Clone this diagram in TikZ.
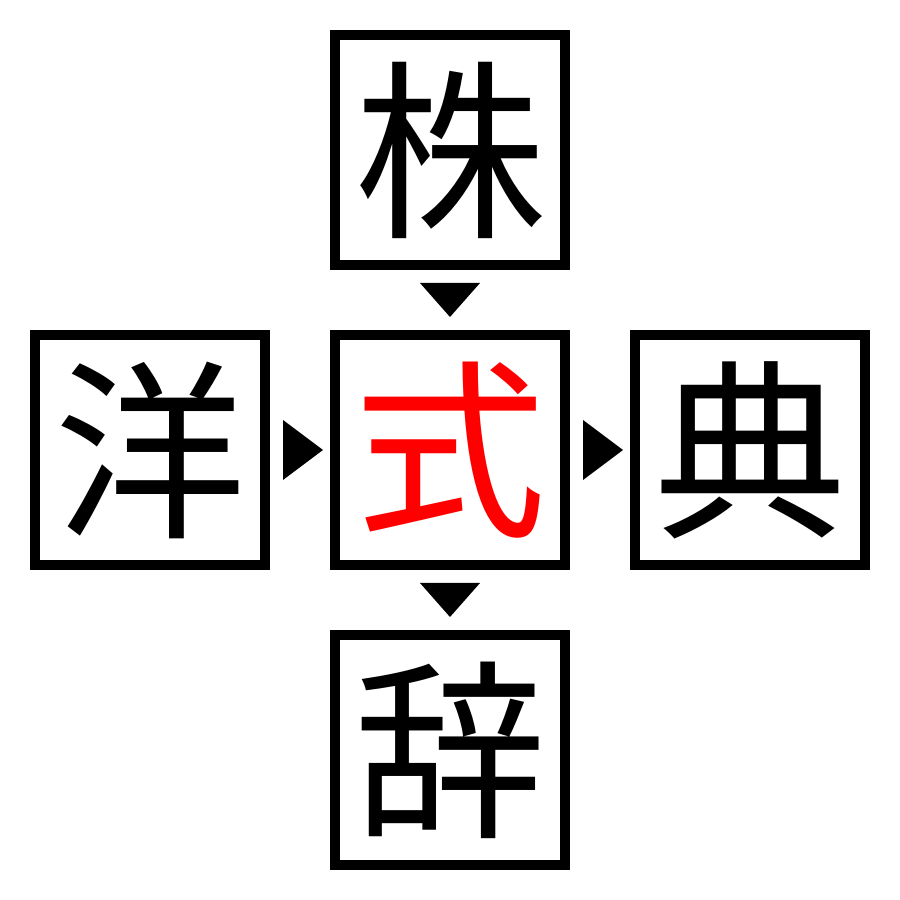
\documentclass[tikz,border=0pt]{standalone}
\usepackage{fontspec}
\newfontfamily\cjk{Noto Sans CJK JP}
\usetikzlibrary{calc}
\begin{document}
\begin{tikzpicture}[x=1pt,y=1pt,
  box/.style={draw=black,line width=10pt,minimum size=230pt,inner sep=0pt,font=\cjk\fontsize{192}{192}\selectfont},
  tri/.style={fill=black}]
\useasboundingbox (0,0) rectangle (900,900);
\node[box] (top) at (450,750) {株};
\node[box] (left) at (150,450) {洋};
\node[box,text=red] (mid) at (450,450) {式};
\node[box] (right) at (750,450) {典};
\node[box] (bot) at (450,150) {辞};
\fill[tri] ($(top.south)+(-30,-13)$) -- ($(top.south)+(30,-13)$) -- ($(mid.north)+(0,13)$) -- cycle;
\fill[tri] ($(mid.south)+(-30,-13)$) -- ($(mid.south)+(30,-13)$) -- ($(bot.north)+(0,13)$) -- cycle;
\fill[tri] ($(left.east)+(13,30)$) -- ($(left.east)+(13,-30)$) -- ($(mid.west)+(-7,0)$) -- cycle;
\fill[tri] ($(mid.east)+(13,30)$) -- ($(mid.east)+(13,-30)$) -- ($(right.west)+(-7,0)$) -- cycle;
\end{tikzpicture}
\end{document}
